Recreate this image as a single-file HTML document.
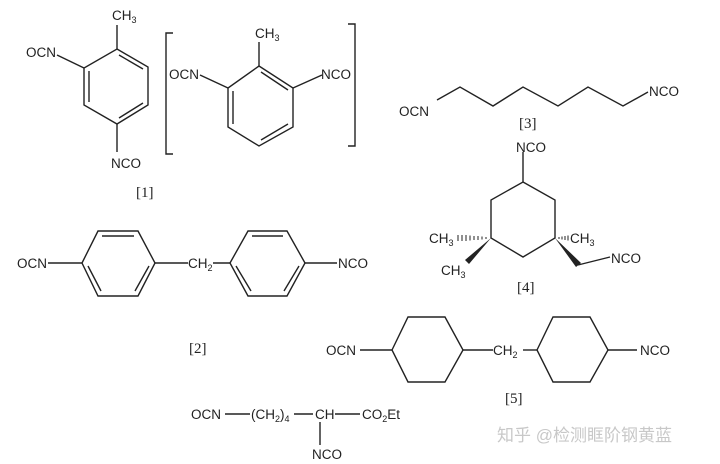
<!DOCTYPE html>
<html><head><meta charset="utf-8"><style>
html,body{margin:0;padding:0;background:#fff;}
svg{display:block;}
text{font-family:"Liberation Sans",sans-serif;font-size:13.5px;fill:#222;}
.l{font-family:"Liberation Serif",serif;font-size:15px;}
.s{font-size:9px;}
</style></head><body>
<svg width="720" height="464" viewBox="0 0 720 464" xmlns="http://www.w3.org/2000/svg">
<g stroke="#222" stroke-width="1.4" fill="none">
<polygon points="117,49 148,67 148,105 117,124 84,105 84,68"/>
<line x1="119" y1="55" x2="143" y2="69"/>
<line x1="89" y1="71" x2="89" y2="102"/>
<line x1="143" y1="103" x2="119" y2="118"/>
<line x1="117" y1="25" x2="117" y2="49"/>
<line x1="57" y1="55" x2="84" y2="68"/>
<line x1="117" y1="124" x2="117" y2="152"/>
<polyline points="173,33 166,33 166,154 173,154"/>
<polyline points="348,24 355,24 355,146 348,146"/>
<polygon points="259,66 293,88 293,127 259,146 228,127 228,88"/>
<line x1="261" y1="72" x2="288" y2="90"/>
<line x1="233" y1="91" x2="233" y2="124"/>
<line x1="288" y1="124" x2="261" y2="140"/>
<line x1="259" y1="42" x2="259" y2="66"/>
<line x1="200" y1="75" x2="228" y2="88"/>
<line x1="293" y1="88" x2="322" y2="75"/>
<polyline points="437,100 460,87 493,106 523,87 558,106 588,87 623,106 648,92"/>
<line x1="523" y1="152" x2="523" y2="182"/>
<polygon points="523,182 555,200 555,238 523,257 491,238 491,200"/>
<g stroke-width="1">
<line x1="458" y1="235" x2="458" y2="241"/><line x1="462" y1="235" x2="462" y2="241"/><line x1="466" y1="235" x2="466" y2="241"/><line x1="470" y1="235.5" x2="470" y2="240.5"/><line x1="474" y1="236" x2="474" y2="240"/><line x1="478" y1="236" x2="478" y2="240"/><line x1="482" y1="236.5" x2="482" y2="239.5"/><line x1="486" y1="237" x2="486" y2="239"/>
<line x1="559" y1="237" x2="559" y2="239"/><line x1="562" y1="236.5" x2="562" y2="239.5"/><line x1="565" y1="236" x2="565" y2="240"/><line x1="568" y1="235.5" x2="568" y2="240.5"/>
</g>
<line x1="578" y1="265" x2="610" y2="257"/>
<polygon points="82,263 98,231 138,231 155,263 138,296 98,296"/>
<line x1="102" y1="236" x2="134" y2="236"/>
<line x1="88" y1="266" x2="101" y2="291"/>
<line x1="135" y1="291" x2="149" y2="266"/>
<line x1="48" y1="263" x2="82" y2="263"/>
<line x1="155" y1="263" x2="188" y2="263"/>
<line x1="213" y1="263" x2="230" y2="263"/>
<polygon points="230,263 248,231 287,231 305,263 287,296 248,296"/>
<line x1="252" y1="236" x2="283" y2="236"/>
<line x1="236" y1="266" x2="251" y2="291"/>
<line x1="284" y1="291" x2="299" y2="266"/>
<line x1="305" y1="263" x2="337" y2="263"/>
<line x1="360" y1="350" x2="392" y2="350"/>
<polygon points="392,350 408,317 445,317 463,350 445,382 408,382"/>
<line x1="463" y1="350" x2="493" y2="350"/>
<line x1="523" y1="350" x2="537" y2="350"/>
<polygon points="537,350 553,317 590,317 608,350 590,382 553,382"/>
<line x1="608" y1="350" x2="637" y2="350"/>
<line x1="225" y1="414" x2="250" y2="414"/>
<line x1="294" y1="414" x2="313" y2="414"/>
<line x1="335" y1="414" x2="360" y2="414"/>
<line x1="320" y1="422" x2="320" y2="445"/>
</g>
<polygon points="491,238 465,260 469,264" fill="#222"/>
<polygon points="555,238 576,267 581,263" fill="#222"/>
<text x="112" y="20">CH<tspan class="s" dy="3">3</tspan></text>
<text x="26" y="57">OCN</text>
<text x="111" y="168">NCO</text>
<text class="l" x="136" y="197">[1]</text>
<text x="255" y="38">CH<tspan class="s" dy="3">3</tspan></text>
<text x="169" y="79">OCN</text>
<text x="321" y="79">NCO</text>
<text x="399" y="116">OCN</text>
<text x="649" y="96">NCO</text>
<text class="l" x="519" y="128">[3]</text>
<text x="516" y="152">NCO</text>
<text x="429" y="243">CH<tspan class="s" dy="3">3</tspan></text>
<text x="441" y="275">CH<tspan class="s" dy="3">3</tspan></text>
<text x="570" y="243">CH<tspan class="s" dy="3">3</tspan></text>
<text x="611" y="263">NCO</text>
<text class="l" x="517" y="292">[4]</text>
<text x="17" y="268">OCN</text>
<text x="188" y="268">CH<tspan class="s" dy="3">2</tspan></text>
<text x="338" y="268">NCO</text>
<text class="l" x="189" y="353">[2]</text>
<text x="326" y="355">OCN</text>
<text x="493" y="355">CH<tspan class="s" dy="3">2</tspan></text>
<text x="640" y="355">NCO</text>
<text class="l" x="505" y="403">[5]</text>
<text x="191" y="419">OCN</text>
<text x="251" y="419">(CH<tspan class="s" dy="3">2</tspan><tspan dy="-3">)</tspan><tspan class="s" dy="3">4</tspan></text>
<text x="315" y="419">CH</text>
<text x="362" y="419">CO<tspan class="s" dy="3">2</tspan><tspan dy="-3">Et</tspan></text>
<text x="312" y="459">NCO</text>
<text x="497" y="441" style="font-family:'Liberation Sans','Noto Sans CJK SC',sans-serif;font-size:17px;fill:#c8c8c8;">知乎 @检测眶阶钢黄蓝</text>
</svg>
</body></html>
